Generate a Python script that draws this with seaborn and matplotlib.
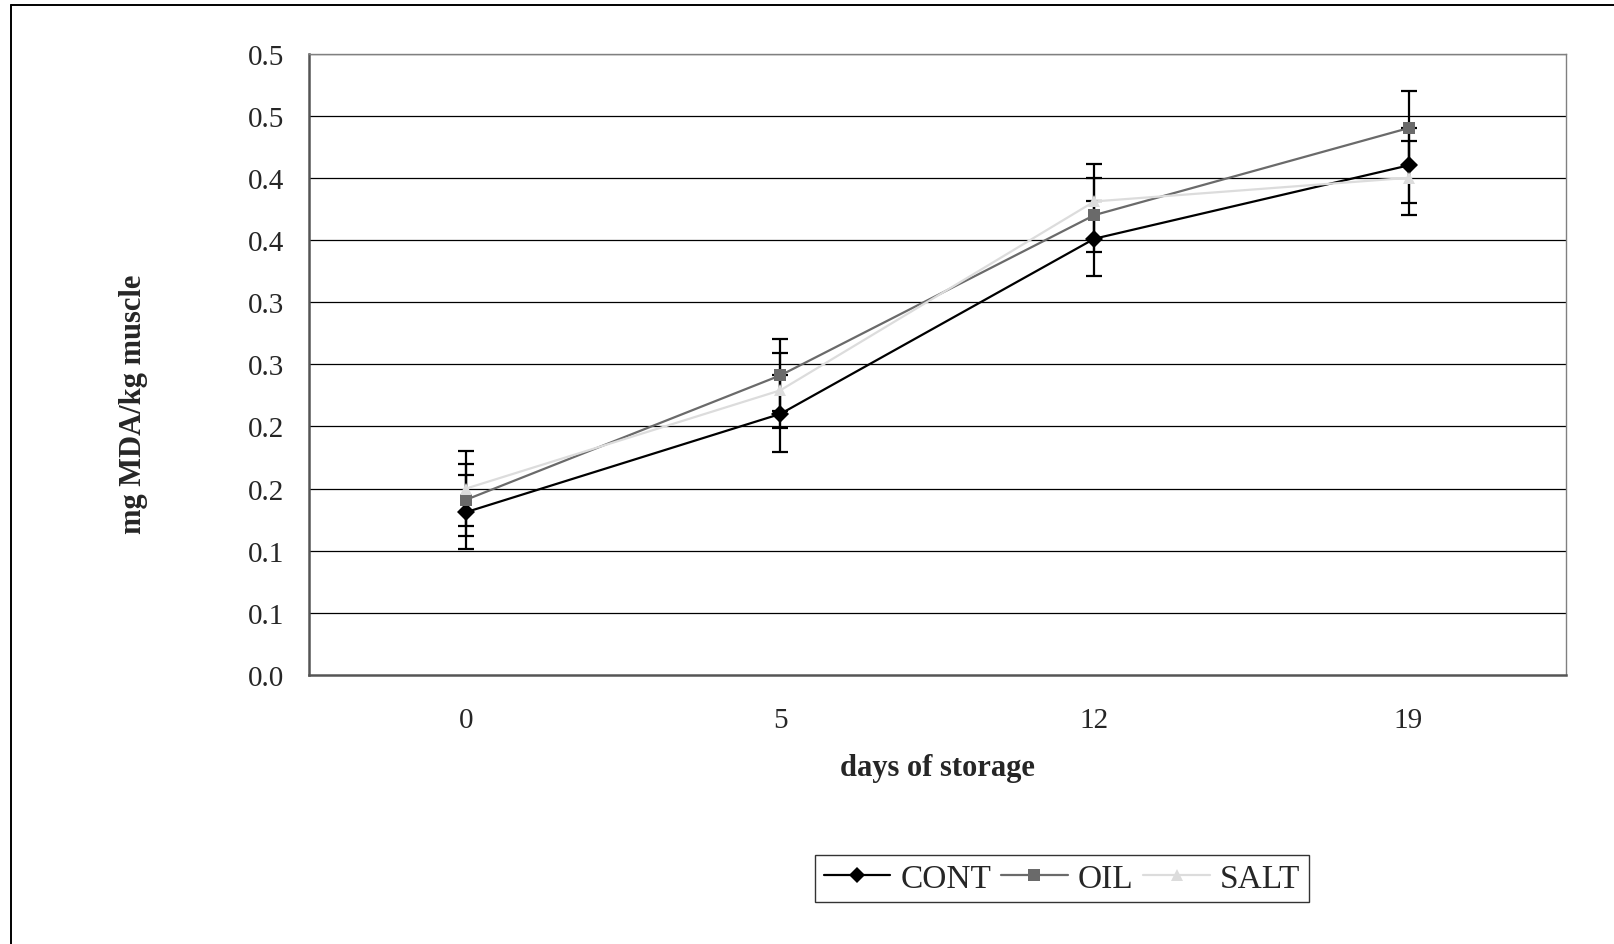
#!/usr/bin/env python3

import pandas as pd
import numpy as np
import matplotlib
matplotlib.use('Agg')
import matplotlib.pyplot as plt
from matplotlib.lines import Line2D
import seaborn as sns

# values
days = ['0', '5', '12', '19']
cont = [0.131, 0.210, 0.351, 0.410]
oil = [0.141, 0.241, 0.370, 0.440]
salt = [0.150, 0.229, 0.381, 0.400]
cont_err = [0.030, 0.031, 0.030, 0.030]
oil_err = [0.029, 0.029, 0.030, 0.030]
salt_err = [0.030, 0.030, 0.030, 0.030]

series_names = ['CONT', 'OIL', 'SALT']
series_colors = ['#000000', '#6a6a6a', '#dcdcdc']
series_markers = ['D', 's', '^']

y_ticks = [0.0, 0.05, 0.10, 0.15, 0.20, 0.25, 0.30, 0.35, 0.40, 0.45, 0.50]
# Excel-style rounding to one decimal, as printed on the original axis
y_tick_labels = ['0.0', '0.1', '0.1', '0.2', '0.2', '0.3', '0.3', '0.4', '0.4', '0.5', '0.5']


def build_frame():
  rows = []
  for name, vals, errs in zip(series_names, [cont, oil, salt], [cont_err, oil_err, salt_err]):
    for i, (d, v, e) in enumerate(zip(days, vals, errs)):
      rows.append(dict(series=name, pos=i, day=d, value=v, err=e))
  return pd.DataFrame(rows)


def main():
  sns.set_style('white')
  plt.rcParams['font.family'] = ['Liberation Serif', 'DejaVu Serif']

  df = build_frame()

  fig = plt.figure(figsize=(16.14, 9.45), dpi=100)
  ax = fig.add_axes([0.1915, 0.2847, 0.970 - 0.1915, 0.9423 - 0.2847])

  # grid lines first so they sit under the data
  for y in y_ticks[1:]:
    ax.axhline(y, color='#000000', lw=0.9, zorder=0)

  # error bars (all drawn in black, as in the original)
  for name in series_names:
    sub = df[df.series == name]
    ax.errorbar(sub.pos, sub.value, yerr=sub.err, fmt='none', ecolor='black',
                elinewidth=1.6, capsize=6, capthick=1.6, zorder=2)

  sns.lineplot(data=df, x='pos', y='value', hue='series', style='series',
               hue_order=series_names, style_order=series_names,
               palette=dict(zip(series_names, series_colors)),
               markers=dict(zip(series_names, series_markers)),
               dashes=False, markersize=9, markeredgewidth=0, linewidth=1.6,
               ax=ax, legend=False, zorder=3)

  ax.set_xlim(-0.5, 3.5)
  ax.set_ylim(0, 0.5)
  ax.set_yticks(y_ticks)
  ax.set_yticklabels(y_tick_labels, fontsize=21)
  ax.set_xticks(range(len(days)))
  ax.set_xticklabels(days, fontsize=21)
  ax.set_xticks(np.arange(-0.5, len(days), 1.0), minor=True)
  ax.tick_params(axis='x', which='major', length=0, pad=23)
  ax.tick_params(axis='x', which='minor', length=6, width=1, color='#555555', direction='out')
  ax.tick_params(axis='y', which='major', length=8, width=1, color='#555555', direction='out', pad=10)

  for side in ['left', 'bottom']:
    ax.spines[side].set_color('#555555')
    ax.spines[side].set_linewidth(1.8)
  for side in ['top', 'right']:
    ax.spines[side].set_color('#808080')
    ax.spines[side].set_linewidth(1.0)

  ax.set_xlabel('days of storage', fontsize=22, fontweight='bold')
  ax.set_ylabel('mg MDA/kg muscle', fontsize=22, fontweight='bold')
  ax.xaxis.set_label_coords(0.5, -0.126)
  ax.yaxis.set_label_coords(-0.128, 0.437)

  handles = []
  for name, c, m in zip(series_names, series_colors, series_markers):
    h, = ax.plot([], [], color=c, marker=m, markersize=8, markeredgewidth=0, lw=1.6, label=name)
    handles.append(h)
  leg = fig.legend(handles=handles, loc='center', bbox_to_anchor=(0.658, 0.069), ncol=3,
                   fontsize=24, frameon=True, fancybox=False, edgecolor='black',
                   handlelength=2.0, handletextpad=0.3, columnspacing=0.3, borderpad=0.25)
  leg.get_frame().set_linewidth(1.0)

  # outer frame: only top and left edges are visible in the original
  fig.add_artist(Line2D([11 / 1614, 1.0], [1 - 6 / 945, 1 - 6 / 945], transform=fig.transFigure,
                        color='black', lw=1.4))
  fig.add_artist(Line2D([11 / 1614, 11 / 1614], [0.0, 1 - 6 / 945], transform=fig.transFigure,
                        color='black', lw=1.4))

  fig.savefig('out.png', dpi=100)


if __name__ == "__main__":
  main()
